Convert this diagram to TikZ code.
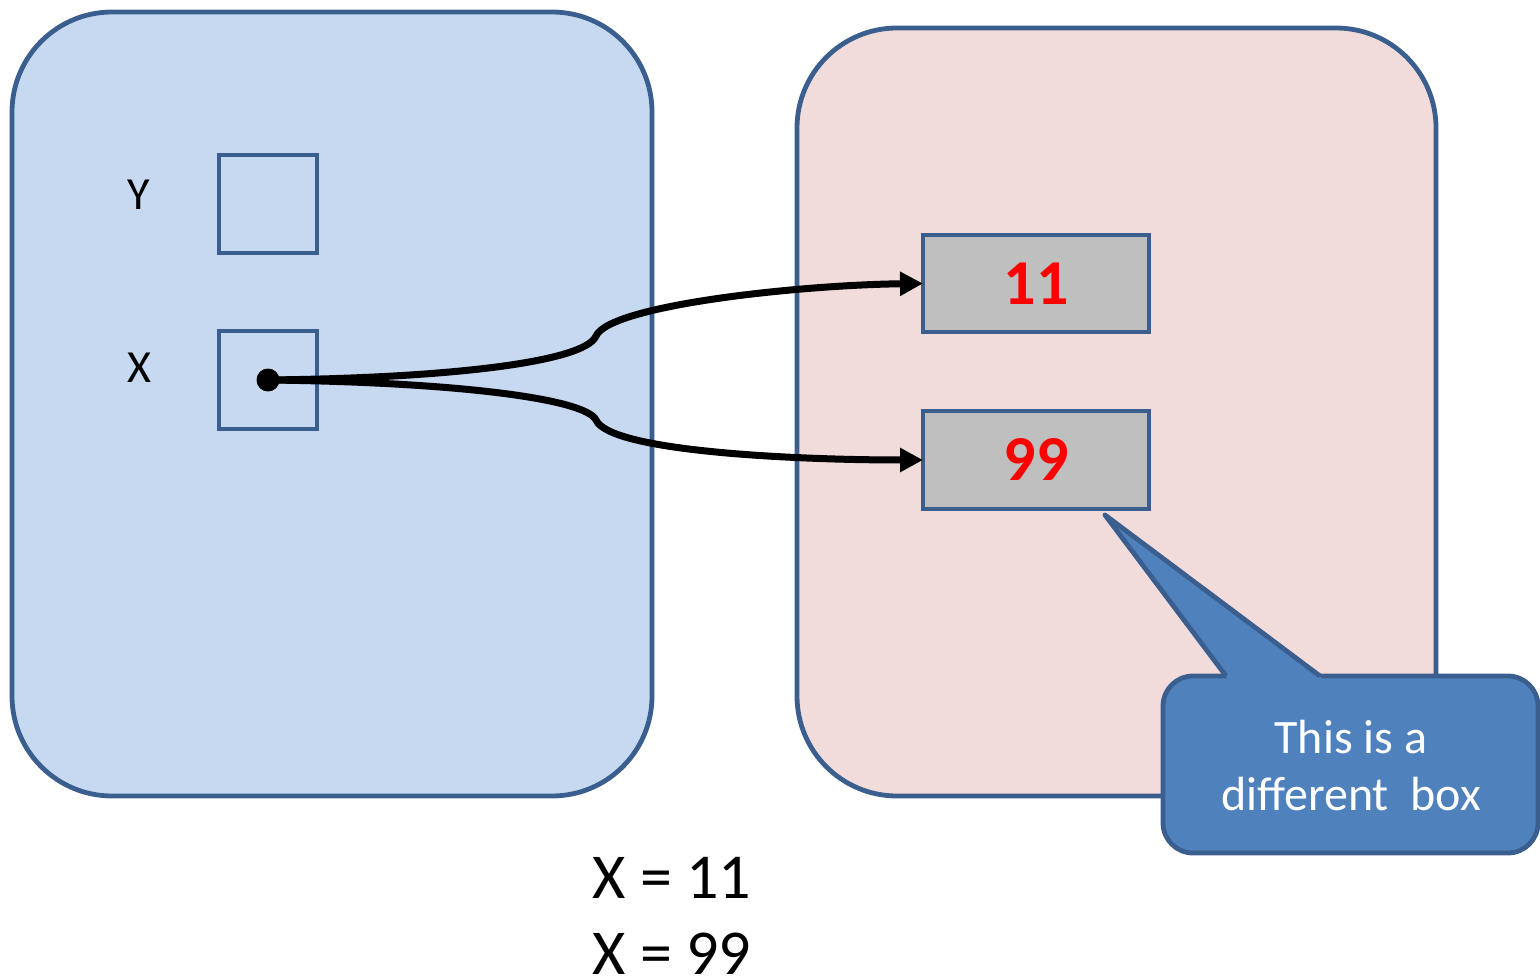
\documentclass[tikz,border=0pt]{standalone}
\usepackage{fontspec}
\setmainfont{Carlito}
\usetikzlibrary{arrows.meta}
\definecolor{frameblue}{HTML}{3A5F8E}
\definecolor{scopeblue}{HTML}{C6D9F0}
\definecolor{scopepink}{HTML}{F2DCDB}
\definecolor{cellgray}{HTML}{BFBFBF}
\definecolor{calloutblue}{HTML}{4F81BD}
\tikzset{
  frame/.style={draw=frameblue, line width=2.4pt, rounded corners=50pt, inner sep=0pt, outer sep=0pt},
  cell/.style={draw=frameblue, line width=2.4pt, inner sep=0pt, outer sep=0pt},
  varlabel/.style={font=\fontsize{23}{27}\selectfont},
  valtext/.style={font=\fontsize{32}{38}\selectfont\bfseries, text=red},
  ref/.style={line width=3.5pt, -{Triangle[length=11.5pt,width=11.5pt]}},
  eqtext/.style={font=\fontsize{32}{38}\selectfont, anchor=base west, inner sep=0pt},
  notebox/.style={draw=frameblue, fill=calloutblue, line width=2.4pt, rounded corners=15pt,
    inner sep=0pt, outer sep=0pt},
}
\begin{document}
\begin{tikzpicture}[x=0.5pt,y=-0.5pt]
\useasboundingbox (0,0) rectangle (1540,978);

% the two scopes
\node[frame, fill=scopeblue, minimum width=320pt, minimum height=392pt] (left) at (332,404) {};
\node[frame, fill=scopepink, minimum width=319.5pt, minimum height=384pt] (right) at (1116.5,412) {};

% variables
\node[cell, minimum width=49pt, minimum height=49pt] (ybox) at (268,204) {};
\node[cell, minimum width=49pt, minimum height=49pt] (xbox) at (268,380) {};
\node[varlabel] (ylab) at (139,195) {Y};
\node[varlabel] (xlab) at (139,368) {X};

% values
\node[cell, fill=cellgray, minimum width=113pt, minimum height=48.5pt] (v11) at (1036,283.5) {};
\node[valtext] (t11) at (v11) {11};
\node[cell, fill=cellgray, minimum width=113pt, minimum height=49pt] (v99) at (1036,460) {};
\node[valtext] (t99) at (v99) {99};

% references from X
\node[circle, fill=black, inner sep=0pt, minimum size=11.5pt] (dot) at (268,380) {};
\draw[ref] (dot.center) .. controls (450,378) and (585,362) .. (596,336)
  .. controls (610,305) and (800,285) .. (v11.west);
\draw[ref] (dot.center) .. controls (450,382) and (585,398) .. (596,420)
  .. controls (610,452) and (800,460) .. (v99.west);

% callout: rounded box, then its pointer laid over the top edge
\node[notebox, minimum width=187.5pt, minimum height=88.5pt] (notebg) at (1350.5,764.5) {};
\coordinate (tip) at (1105,515);
\fill[calloutblue] (1230,682) -- (tip) -- (1327,682) -- cycle;
\draw[frameblue, line width=2.4pt, line join=round] (1226,676) -- (tip) -- (1320,676);
\node[text=white, align=center, font=\fontsize{24}{28.5}\selectfont] (note) at (1351,766)
  {This is a\\different~~box};

% assignments
\node[eqtext] (eq1) at (592,898) {X = 11};
\node[eqtext] (eq2) at (592,974) {X = 99};
\end{tikzpicture}
\end{document}
